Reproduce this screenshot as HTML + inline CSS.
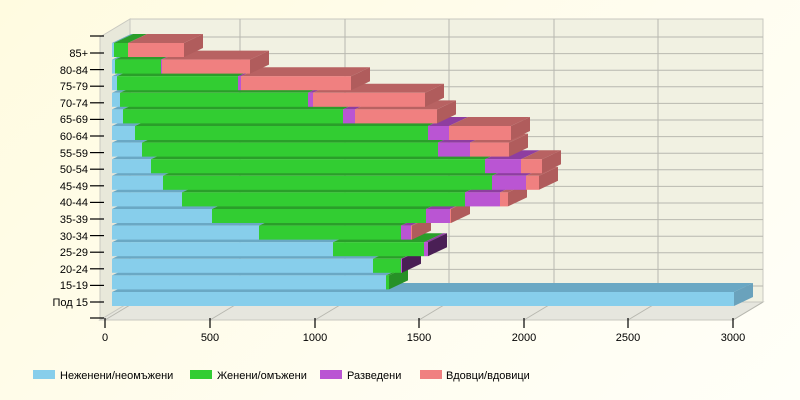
<!DOCTYPE html>
<html><head><meta charset="utf-8"><style>
html,body{margin:0;padding:0}
body{width:800px;height:400px;background:linear-gradient(135deg,#fffbe0 0%,#fffdf0 60%,#fffff8 100%);font-family:"Liberation Sans",sans-serif;overflow:hidden}
svg{position:absolute;left:0;top:0}
text{font-family:"Liberation Sans",sans-serif;font-size:11px;fill:#000}
</style></head><body>
<svg id="s" width="800" height="400" xmlns="http://www.w3.org/2000/svg">
<polygon points="130,19 763,19 763,302 130,302" fill="#f1f1e2" stroke="#c8c8c0"/>
<polygon points="100,37 130,19 130,302 100,320" fill="#e8e8da" stroke="#c8c8c0"/>
<polygon points="100,320 130,302 763,302 733,320" fill="#e6e6de" stroke="#c8c8c0"/>
<g id="grid" stroke="#b8b8b0" stroke-width="1"></g>
<g id="bars"></g>
<g stroke="#000" stroke-width="1.2">
<line x1="90" y1="36" x2="104" y2="36"/>
<line x1="90" y1="318" x2="104" y2="318"/>
<line x1="105" y1="318" x2="105" y2="328"/>
<line x1="210" y1="318" x2="210" y2="328"/>
<line x1="315" y1="318" x2="315" y2="328"/>
<line x1="419" y1="318" x2="419" y2="328"/>
<line x1="524" y1="318" x2="524" y2="328"/>
<line x1="628" y1="318" x2="628" y2="328"/>
<line x1="733" y1="318" x2="733" y2="328"/>
</g>
<g id="cticks" stroke="#000" stroke-width="1.2"></g>
<g text-anchor="end">
<text x="88" y="57">85+</text>
<text x="88" y="74">80-84</text>
<text x="88" y="90">75-79</text>
<text x="88" y="107">70-74</text>
<text x="88" y="123">65-69</text>
<text x="88" y="140">60-64</text>
<text x="88" y="157">55-59</text>
<text x="88" y="173">50-54</text>
<text x="88" y="190">45-49</text>
<text x="88" y="206">40-44</text>
<text x="88" y="223">35-39</text>
<text x="88" y="240">30-34</text>
<text x="88" y="256">25-29</text>
<text x="88" y="273">20-24</text>
<text x="88" y="289">15-19</text>
<text x="88" y="306">Под 15</text>
</g>
<g text-anchor="middle">
<text x="105" y="341">0</text>
<text x="210" y="341">500</text>
<text x="315" y="341">1000</text>
<text x="419" y="341">1500</text>
<text x="524" y="341">2000</text>
<text x="628" y="341">2500</text>
<text x="733" y="341">3000</text>
</g>
<rect x="33" y="370" width="22" height="9" fill="#87ceeb"/>
<text x="60" y="379">Неженени/неомъжени</text>
<rect x="190" y="370" width="22" height="9" fill="#32cd32"/>
<text x="217" y="379">Женени/омъжени</text>
<rect x="320" y="370" width="22" height="9" fill="#ba55d3"/>
<text x="347" y="379">Разведени</text>
<rect x="420" y="370" width="22" height="9" fill="#f08080"/>
<text x="446" y="379">Вдовци/вдовици</text>
</svg>
<script>
var NS="http://www.w3.org/2000/svg";
function el(p,t,a){var e=document.createElementNS(NS,t);for(var k in a)e.setAttribute(k,a[k]);p.appendChild(e);return e;}
var g=document.getElementById('grid'),b=document.getElementById('bars'),ct=document.getElementById('cticks');
[105,210,315,419,524,628,733].forEach(function(x,i){
 if(i>0&&i<6) el(g,'line',{x1:x+30,y1:19,x2:x+30,y2:302});
 el(g,'line',{x1:x,y1:320,x2:x+30,y2:302});
});
var data=[
[112,114,128,128,184],[112,115,161,162,250],[112,117,238,241,351],[112,120,308,313,425],
[112,123,343,355,437],[112,135,428,449,511],[112,142,438,470,509],[112,151,485,521,542],
[112,163,492,526,539],[112,182,465,500,508],[112,212,426,450,451],[112,259,401,411,412],
[112,333,424,428,428],[112,373,401,402,402],[112,386,389,389,389],[112,734,734,734,734]];
var front=['#87ceeb','#32cd32','#ba55d3','#f08080'];
var top_=['#6aa8c4','#2a9e2a','#8e3ea0','#b86262'];
var side=['#6aa2bc','#279127','#4a1f55','#b05c5c'];
var DX=19,DY=-9;
for(var i=0;i<16;i++){
 var c=53+i*16.6;
 el(g,'line',{x1:130,y1:c-16,x2:763,y2:c-16});
 el(ct,'line',{x1:90,y1:c,x2:104,y2:c});
}
for(var i=15;i>=0;i--){
 var c=53+i*16.6;
 var y0=c-10,h=14,d=data[i];
 var last=0;
 for(var s=0;s<4;s++){ if(d[s+1]>d[s]) last=s; }
 for(var s=0;s<4;s++){
  var x0=d[s],x1=d[s+1]; if(x1<=x0) continue;
  el(b,'polygon',{points:[x0,y0,x0+DX,y0+DY,x1+DX,y0+DY,x1,y0].join(','),fill:top_[s]});
  if(s==last) el(b,'polygon',{points:[x1,y0,x1+DX,y0+DY,x1+DX,y0+DY+h,x1,y0+h].join(','),fill:side[s]});
  el(b,'rect',{x:x0,y:y0,width:x1-x0,height:h,fill:front[s]});
 }
}
</script>
</body></html>
